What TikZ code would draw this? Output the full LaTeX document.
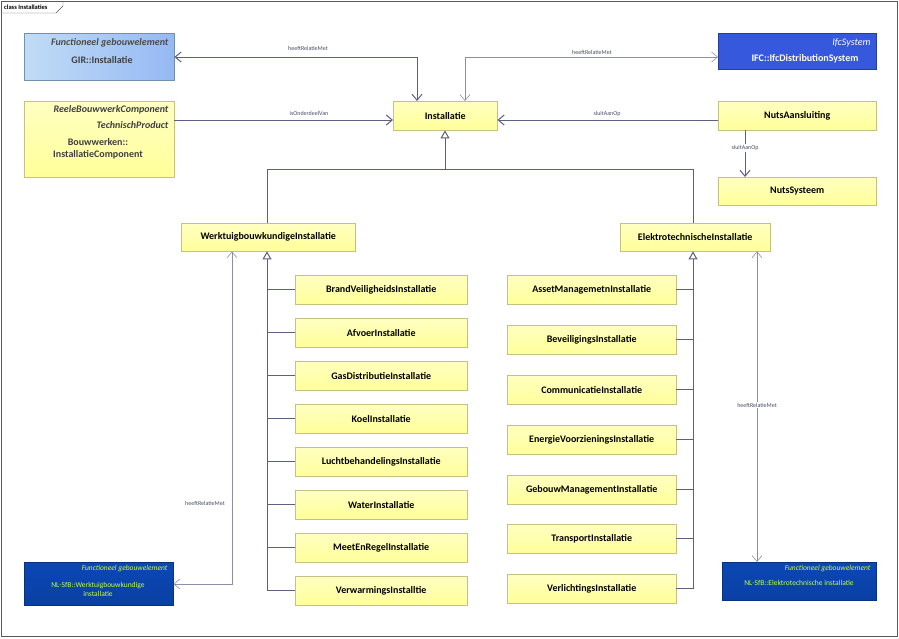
\documentclass[tikz,border=0pt]{standalone}
\usepackage{fontspec}
\setmainfont{Carlito}
\usetikzlibrary{arrows.meta}
\definecolor{ln}{HTML}{5A6080}
\definecolor{yb}{HTML}{FFFF99}
\definecolor{ybd}{HTML}{C8C080}
\definecolor{db}{HTML}{0B47B5}
\definecolor{ib}{HTML}{3558DD}
\definecolor{lb}{HTML}{A6CDF2}
\definecolor{gt}{HTML}{C8FF3C}
\tikzset{
  cls/.style={draw=ybd,top color=yb!60,bottom color=yb,inner sep=0pt,anchor=north west,font=\bfseries\fontsize{10}{12}\selectfont,align=center},
  lbl/.style={font=\fontsize{6}{7}\selectfont,text=ln!80!black,inner sep=1pt},
  con/.style={draw=ln,line width=1pt},
  tcon/.style={draw=ln!70,line width=0.6pt},
  opn/.style={-{Straight Barb[length=6pt,width=10pt]}},
  opnb/.style={{Straight Barb[length=6pt,width=10pt]}-{Straight Barb[length=6pt,width=10pt]}},
  gen/.style={-{Triangle[open,length=8pt,width=9pt,fill=white]}}
}
\begin{document}
\begin{tikzpicture}[x=1pt,y=-1pt]
\useasboundingbox (0,0) rectangle (899,638);
\fill[white] (0,0) rectangle (899,638);
\draw[gray!70!black,line width=1pt] (1,1) rectangle (897,636);
\node[font=\fontsize{6.5}{7}\selectfont\bfseries,anchor=west,inner sep=1pt] (tab) at (3,7) {class Installaties};
\draw[gray!70!black] (1,13) -- (56,13) -- (63,6) -- (63,1);
% boxes
\node[cls,draw=lb!70!black,left color=lb!70,right color=lb!90!blue,minimum width=150pt,minimum height=47pt] (gir) at (24,33) {};
\node[anchor=east,font=\itshape\bfseries\fontsize{10}{12}\selectfont,text=black!70] at (172,43) {Functioneel gebouwelement};
\node[font=\bfseries\fontsize{10}{12}\selectfont,text=black!75] at (102,60) {GIR::Installatie};
\node[cls,minimum width=150pt,minimum height=76pt] (ree) at (24,101) {};
\node[anchor=east,font=\itshape\bfseries\fontsize{10}{12}\selectfont,text=black!75] at (172,110) {ReeleBouwwerkComponent};
\node[anchor=east,font=\itshape\bfseries\fontsize{10}{12}\selectfont,text=black!75] at (172,125) {TechnischProduct};
\node[font=\bfseries\fontsize{10}{12}\selectfont,text=black!75,align=center] at (98,149) {Bouwwerken::\\InstallatieComponent};
\node[cls,minimum width=104pt,minimum height=29pt] (ins) at (393,101) {Installatie};
\node[cls,draw=ib!70!black,fill=ib,top color=ib,bottom color=ib,minimum width=158pt,minimum height=36pt] (ifc) at (718,33) {};
\node[anchor=east,font=\itshape\fontsize{10}{12}\selectfont,text=white] at (874,43) {IfcSystem};
\node[anchor=east,font=\bfseries\fontsize{10}{12}\selectfont,text=white] at (862,59) {IFC::IfcDistributionSystem};
\node[cls,minimum width=158pt,minimum height=29pt] (nua) at (718,101) {NutsAansluiting};
\node[cls,minimum width=158pt,minimum height=28pt] (nus) at (718,177) {NutsSysteem};
\node[cls,minimum width=174pt,minimum height=28pt] (wti) at (181,223) {WerktuigbouwkundigeInstallatie};
\node[cls,minimum width=150pt,minimum height=28pt] (eti) at (620,223) {ElektrotechnischeInstallatie};
\foreach \n/\t/\y in {l1/BrandVeiligheidsInstallatie/275,l2/AfvoerInstallatie/318,l3/GasDistributieInstallatie/361,l4/KoelInstallatie/404,l5/LuchtbehandelingsInstallatie/447,l6/WaterInstallatie/490,l7/MeetEnRegelInstallatie/533,l8/VerwarmingsInstalltie/576}
  \node[cls,minimum width=172pt,minimum height=29pt] (\n) at (295,\y) {\t};
\foreach \n/\t/\y in {r1/AssetManagemetnInstallatie/275,r2/BeveiligingsInstallatie/325,r3/CommunicatieInstallatie/375,r4/EnergieVoorzieningsInstallatie/425,r5/GebouwManagementInstallatie/475,r6/TransportInstallatie/524,r7/VerlichtingsInstallatie/574}
  \node[cls,minimum width=169pt,minimum height=29pt] (\n) at (507,\y) {\t};
\node[cls,draw=db!70!black,top color=db,bottom color=db!90!black,minimum width=149pt,minimum height=43pt] (nlw) at (24,562) {};
\node[anchor=east,font=\itshape\fontsize{7.5}{9}\selectfont,text=gt] at (171,569) {Functioneel gebouwelement};
\node[font=\fontsize{7.5}{9}\selectfont,text=gt,align=center] at (98,589) {NL-SfB::Werktuigbouwkundige\\installatie};
\node[cls,draw=db!70!black,top color=db,bottom color=db!90!black,minimum width=154pt,minimum height=38pt] (nle) at (722,562) {};
\node[anchor=east,font=\itshape\fontsize{7.5}{9}\selectfont,text=gt] at (874,569) {Functioneel gebouwelement};
\node[font=\fontsize{7.5}{9}\selectfont,text=gt] at (799,583) {NL-SfB::Elektrotechnische installatie};
% associations
\draw[con,opnb] (gir.east |- 0,57) -- (417,57) -- (ins.north -| 417,0);
\node[lbl] (a1) at (308,48) {heeftRelatieMet};
\draw[tcon,opnb] (ins.north -| 465,0) -- (465,57) -- (ifc.west |- 0,57);
\node[lbl] (a2) at (592,52) {heeftRelatieMet};
\draw[con,opn] (ree.east |- 0,120) -- (ins.west |- 0,120);
\node[lbl] (a3) at (309,113) {isOnderdeelVan};
\draw[con,opn] (nua.west |- 0,120) -- (ins.east |- 0,120);
\node[lbl] (a4) at (607,114) {sluitAanOp};
\draw[con,opn] (nua.south -| 745,0) -- (nus.north -| 745,0);
\node[lbl,fill=white] (a5) at (745,148) {sluitAanOp};
% generalizations
\draw[con] (wti.north -| 267,0) -- (267,169) -- (693,169) -- (eti.north -| 693,0);
\draw[con,gen] (445,169) -- (ins.south -| 445,0);
\draw[con,gen] (267,590) -- (wti.south -| 267,0);
\foreach \n in {l1,l2,l3,l4,l5,l6,l7,l8} \draw[con] (\n.west) -- (\n.west -| 267,0);
\draw[con,gen] (693,589) -- (eti.south -| 693,0);
\foreach \n in {r1,r2,r3,r4,r5,r6,r7} \draw[con] (\n.east) -- (\n.east -| 693,0);
% heeftRelatieMet to NL-SfB
\draw[tcon,opnb] (wti.south -| 232,0) -- (232,584) -- (nlw.east |- 0,584);
\node[lbl,fill=white] (a6) at (205,503) {heeftRelatieMet};
\draw[tcon,opnb] (eti.south -| 757,0) -- (nle.north -| 757,0);
\node[lbl,fill=white] (a7) at (757,405) {heeftRelatieMet};
\end{tikzpicture}
\end{document}
